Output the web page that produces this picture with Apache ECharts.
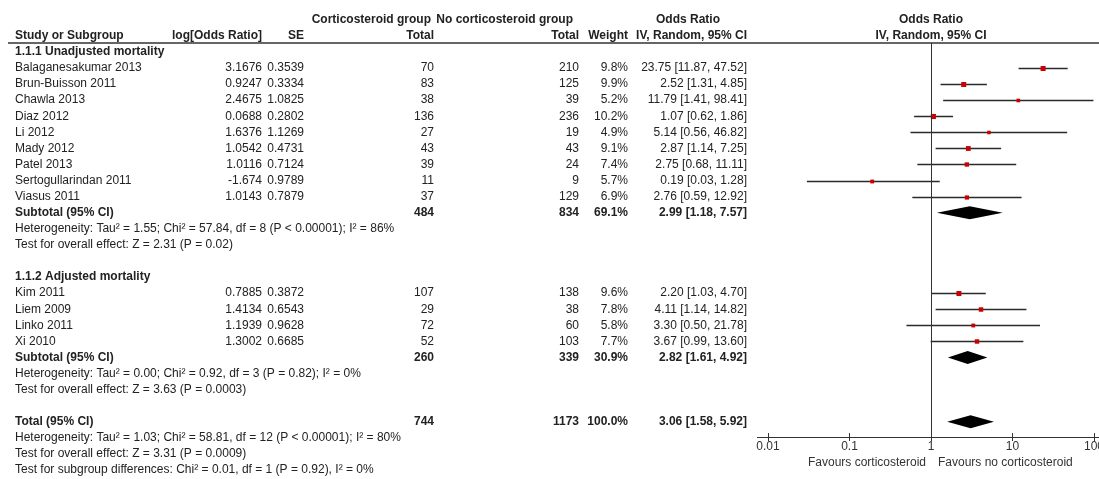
<!DOCTYPE html>
<html>
<head>
<meta charset="utf-8">
<script src="https://cdn.jsdelivr.net/npm/echarts@6/dist/echarts.min.js"></script>
<style>
  html, body { margin: 0; padding: 0; background: #fff; }
  #chart { width: 1099px; height: 479px; }
</style>
</head>
<body>
<div id="chart"></div>
<script>
// ---- Study data: 1.1.1 Unadjusted mortality ----
const unadjNames = ['Balaganesakumar 2013', 'Brun-Buisson 2011', 'Chawla 2013', 'Diaz 2012', 'Li 2012',
  'Mady 2012', 'Patel 2013', 'Sertogullarindan 2011', 'Viasus 2011'];
const unadjLogOR = ['3.1676', '0.9247', '2.4675', '0.0688', '1.6376', '1.0542', '1.0116', '-1.674', '1.0143'];
const unadjSE = ['0.3539', '0.3334', '1.0825', '0.2802', '1.1269', '0.4731', '0.7124', '0.9789', '0.7879'];
const unadjSteroidTotal = [70, 83, 38, 136, 27, 43, 39, 11, 37];
const unadjNoSteroidTotal = [210, 125, 39, 236, 19, 43, 24, 9, 129];
const unadjWeight = [9.8, 9.9, 5.2, 10.2, 4.9, 9.1, 7.4, 5.7, 6.9];
const unadjOR = [23.75, 2.52, 11.79, 1.07, 5.14, 2.87, 2.75, 0.19, 2.76];
const unadjLower = [11.87, 1.31, 1.41, 0.62, 0.56, 1.14, 0.68, 0.03, 0.59];
const unadjUpper = [47.52, 4.85, 98.41, 1.86, 46.82, 7.25, 11.11, 1.28, 12.92];

// ---- Study data: 1.1.2 Adjusted mortality ----
const adjNames = ['Kim 2011', 'Liem 2009', 'Linko 2011', 'Xi 2010'];
const adjLogOR = ['0.7885', '1.4134', '1.1939', '1.3002'];
const adjSE = ['0.3872', '0.6543', '0.9628', '0.6685'];
const adjSteroidTotal = [107, 29, 72, 52];
const adjNoSteroidTotal = [138, 38, 60, 103];
const adjWeight = [9.6, 7.8, 5.8, 7.7];
const adjOR = [2.20, 4.11, 3.30, 3.67];
const adjLower = [1.03, 1.14, 0.50, 0.99];
const adjUpper = [4.70, 14.82, 21.78, 13.60];

// ---- Pooled estimates: [unadjusted subtotal, adjusted subtotal, total] ----
const pooledLabels = ['Subtotal (95% CI)', 'Subtotal (95% CI)', 'Total (95% CI)'];
const pooledSteroidTotal = [484, 260, 744];
const pooledNoSteroidTotal = [834, 339, 1173];
const pooledWeight = [69.1, 30.9, 100.0];
const pooledOR = [2.99, 2.82, 3.06];
const pooledLower = [1.18, 1.61, 1.58];
const pooledUpper = [7.57, 4.92, 5.92];

const groupTitles = ['1.1.1 Unadjusted mortality', '1.1.2 Adjusted mortality'];
const unadjStats = [
  'Heterogeneity: Tau\u00B2 = 1.55; Chi\u00B2 = 57.84, df = 8 (P < 0.00001); I\u00B2 = 86%',
  'Test for overall effect: Z = 2.31 (P = 0.02)'
];
const adjStats = [
  'Heterogeneity: Tau\u00B2 = 0.00; Chi\u00B2 = 0.92, df = 3 (P = 0.82); I\u00B2 = 0%',
  'Test for overall effect: Z = 3.63 (P = 0.0003)'
];
const totalStats = [
  'Heterogeneity: Tau\u00B2 = 1.03; Chi\u00B2 = 58.81, df = 12 (P < 0.00001); I\u00B2 = 80%',
  'Test for overall effect: Z = 3.31 (P = 0.0009)',
  'Test for subgroup differences: Chi\u00B2 = 0.01, df = 1 (P = 0.92), I\u00B2 = 0%'
];
const axisTickLabels = ['0.01', '0.1', '1', '10', '100'];
const favourLabels = ['Favours corticosteroid', 'Favours no corticosteroid'];

// ---- Row layout (row index -> vertical slot in the table) ----
const ROW_UNADJ_HEAD = -1, ROW_UNADJ_FIRST = 0;
const ROW_UNADJ_SUB = ROW_UNADJ_FIRST + unadjNames.length;      // 9
const ROW_ADJ_HEAD = ROW_UNADJ_SUB + 4;                          // 13
const ROW_ADJ_FIRST = ROW_ADJ_HEAD + 1;                          // 14
const ROW_ADJ_SUB = ROW_ADJ_FIRST + adjNames.length;             // 18
const ROW_TOTAL = ROW_ADJ_SUB + 4;                               // 22

const studyRows = [];
unadjNames.forEach((n, i) => studyRows.push({
  row: ROW_UNADJ_FIRST + i, name: n, logOR: unadjLogOR[i], se: unadjSE[i],
  n1: unadjSteroidTotal[i], n2: unadjNoSteroidTotal[i], w: unadjWeight[i],
  or: unadjOR[i], lo: unadjLower[i], hi: unadjUpper[i]
}));
adjNames.forEach((n, i) => studyRows.push({
  row: ROW_ADJ_FIRST + i, name: n, logOR: adjLogOR[i], se: adjSE[i],
  n1: adjSteroidTotal[i], n2: adjNoSteroidTotal[i], w: adjWeight[i],
  or: adjOR[i], lo: adjLower[i], hi: adjUpper[i]
}));
const pooledRowIdx = [ROW_UNADJ_SUB, ROW_ADJ_SUB, ROW_TOTAL];
const pooledRows = pooledRowIdx.map((r, i) => ({
  row: r, label: pooledLabels[i], n1: pooledSteroidTotal[i], n2: pooledNoSteroidTotal[i],
  w: pooledWeight[i], or: pooledOR[i], lo: pooledLower[i], hi: pooledUpper[i]
}));

// ---- Geometry ----
const GRID_TOP = 43, GRID_BOTTOM_Y = 437;
const ROW0_Y = 68, ROW_STEP = 16.08;
const Y_MIN = (GRID_TOP - ROW0_Y) / ROW_STEP;
const Y_MAX = (GRID_BOTTOM_Y - ROW0_Y) / ROW_STEP;
const FONT = '"Liberation Sans", Arial, Helvetica, sans-serif';
const TEXT_COLOR = '#222';

const fmtCI = (o, l, h) => o.toFixed(2) + ' [' + l.toFixed(2) + ', ' + h.toFixed(2) + ']';

const chart = echarts.init(document.getElementById('chart'), null, { renderer: 'canvas' });

chart.setOption({
  animation: false,
  backgroundColor: '#fff',
  grid: {
    left: 768, right: 5, top: GRID_TOP, bottom: 479 - GRID_BOTTOM_Y,
    containLabel: false, outerBoundsMode: 'none'
  },
  xAxis: [{
    type: 'log', logBase: 10, min: 0.01, max: 100, position: 'bottom',
    axisLine: { show: false, onZero: false },
    axisTick: { show: true, length: 4, lineStyle: { color: '#333', width: 1 } },
    axisLabel: {
      show: true, margin: 4, fontSize: 12, fontFamily: FONT, color: '#333',
      formatter: v => axisTickLabels[Math.round(Math.log10(v)) + 2]
    },
    splitLine: { show: false }
  }, {
    type: 'log', logBase: 10, min: 0.01, max: 100, position: 'bottom', gridIndex: 0, offset: 0,
    axisLine: { show: false, onZero: false },
    axisTick: { show: true, inside: true, length: 4, lineStyle: { color: '#333', width: 1 } },
    axisLabel: { show: false },
    splitLine: { show: false }
  }],
  yAxis: {
    type: 'value', inverse: true, min: Y_MIN, max: Y_MAX, show: false
  },
  series: [{
    type: 'custom',
    name: 'studies',
    encode: { x: [1, 2, 3], y: 0 },
    data: studyRows.map(s => [s.row, s.or, s.lo, s.hi, s.w]),
    renderItem: (params, api) => {
      const r = api.value(0);
      const pc = api.coord([api.value(1), r]);
      const p0 = api.coord([api.value(2), r]);
      const p1 = api.coord([api.value(3), r]);
      const side = 1.6 * Math.sqrt(api.value(4));
      const y = Math.round(pc[1]) + 0.5;
      return {
        type: 'group',
        children: [{
          type: 'line',
          shape: { x1: p0[0], y1: y, x2: p1[0], y2: y },
          style: { stroke: '#2a2a2a', lineWidth: 1.3 }
        }, {
          type: 'rect',
          shape: { x: pc[0] - side / 2, y: y - side / 2, width: side, height: side },
          style: { fill: '#cc0000' }
        }]
      };
    },
    markLine: {
      silent: true, symbol: ['none', 'none'], animation: false,
      label: { show: false },
      lineStyle: { color: '#333', width: 1, type: 'solid' },
      data: [{ xAxis: 1 }]
    },
    z: 3
  }, {
    type: 'custom',
    name: 'pooled',
    encode: { x: [1, 2, 3], y: 0 },
    data: pooledRows.map(p => [p.row, p.or, p.lo, p.hi]),
    renderItem: (params, api) => {
      const r = api.value(0);
      const pc = api.coord([api.value(1), r]);
      const p0 = api.coord([api.value(2), r]);
      const p1 = api.coord([api.value(3), r]);
      const h = 6.5;
      return {
        type: 'polygon',
        shape: { points: [[p0[0], pc[1]], [pc[0], pc[1] - h], [p1[0], pc[1]], [pc[0], pc[1] + h]] },
        style: { fill: '#000' }
      };
    },
    z: 4
  }]
});

// ---- Table text, placed on the same row scale as the plot ----
const rowY = r => chart.convertToPixel({ yAxisIndex: 0 }, r);
const texts = [];
function addText(row, x, str, align, bold, dy) {
  texts.push({
    type: 'text', silent: true,
    x: x, y: rowY(row) + (dy || 0),
    style: {
      text: String(str), x: 0, y: 0, align: align || 'left', verticalAlign: 'middle',
      fill: TEXT_COLOR, font: (bold ? 'bold ' : '') + '12px ' + FONT
    }
  });
}
const COL_NAME = 15, COL_LOGOR = 262, COL_SE = 304, COL_N1 = 434, COL_N2 = 579,
  COL_W = 628, COL_CI = 747, COL_CI_MID = 688, COL_PLOT_MID = 931;

// headers
addText(-3, 431, 'Corticosteroid group', 'right', true);
addText(-3, 573, 'No corticosteroid group', 'right', true);
addText(-3, COL_CI_MID, 'Odds Ratio', 'center', true);
addText(-3, COL_PLOT_MID, 'Odds Ratio', 'center', true);
addText(-2, COL_NAME, 'Study or Subgroup', 'left', true);
addText(-2, COL_LOGOR, 'log[Odds Ratio]', 'right', true);
addText(-2, COL_SE, 'SE', 'right', true);
addText(-2, COL_N1, 'Total', 'right', true);
addText(-2, COL_N2, 'Total', 'right', true);
addText(-2, COL_W, 'Weight', 'right', true);
addText(-2, COL_CI, 'IV, Random, 95% CI', 'right', true);
addText(-2, COL_PLOT_MID, 'IV, Random, 95% CI', 'center', true);

// group titles
addText(ROW_UNADJ_HEAD, COL_NAME, groupTitles[0], 'left', true);
addText(ROW_ADJ_HEAD, COL_NAME, groupTitles[1], 'left', true);

// study rows
studyRows.forEach(s => {
  addText(s.row, COL_NAME, s.name, 'left', false);
  addText(s.row, COL_LOGOR, s.logOR, 'right', false);
  addText(s.row, COL_SE, s.se, 'right', false);
  addText(s.row, COL_N1, s.n1, 'right', false);
  addText(s.row, COL_N2, s.n2, 'right', false);
  addText(s.row, COL_W, s.w.toFixed(1) + '%', 'right', false);
  addText(s.row, COL_CI, fmtCI(s.or, s.lo, s.hi), 'right', false);
});

// pooled rows
pooledRows.forEach(p => {
  addText(p.row, COL_NAME, p.label, 'left', true);
  addText(p.row, COL_N1, p.n1, 'right', true);
  addText(p.row, COL_N2, p.n2, 'right', true);
  addText(p.row, COL_W, p.w.toFixed(1) + '%', 'right', true);
  addText(p.row, COL_CI, fmtCI(p.or, p.lo, p.hi), 'right', true);
});

// heterogeneity / test lines
unadjStats.forEach((t, i) => addText(ROW_UNADJ_SUB + 1 + i, COL_NAME, t, 'left', false));
adjStats.forEach((t, i) => addText(ROW_ADJ_SUB + 1 + i, COL_NAME, t, 'left', false));
totalStats.forEach((t, i) => addText(ROW_TOTAL + 1 + i, COL_NAME, t, 'left', false));

// favours labels under the axis
const favY = GRID_BOTTOM_Y + 26;
[[926, favourLabels[0], 'right'], [938, favourLabels[1], 'left']].forEach(([x, t, a]) => {
  texts.push({
    type: 'text', silent: true, x: x, y: favY,
    style: { text: t, x: 0, y: 0, align: a, verticalAlign: 'middle', fill: '#333', font: '12px ' + FONT }
  });
});

// header rule and x-axis baseline
texts.push({
  type: 'line', silent: true,
  shape: { x1: 8, y1: GRID_TOP, x2: 1099, y2: GRID_TOP },
  style: { stroke: '#333', lineWidth: 1.5 }
});
texts.push({
  type: 'line', silent: true,
  shape: { x1: 757, y1: GRID_BOTTOM_Y + 0.5, x2: 1099, y2: GRID_BOTTOM_Y + 0.5 },
  style: { stroke: '#333', lineWidth: 1 }
});

chart.setOption({ graphic: { elements: texts } });
</script>
</body>
</html>
